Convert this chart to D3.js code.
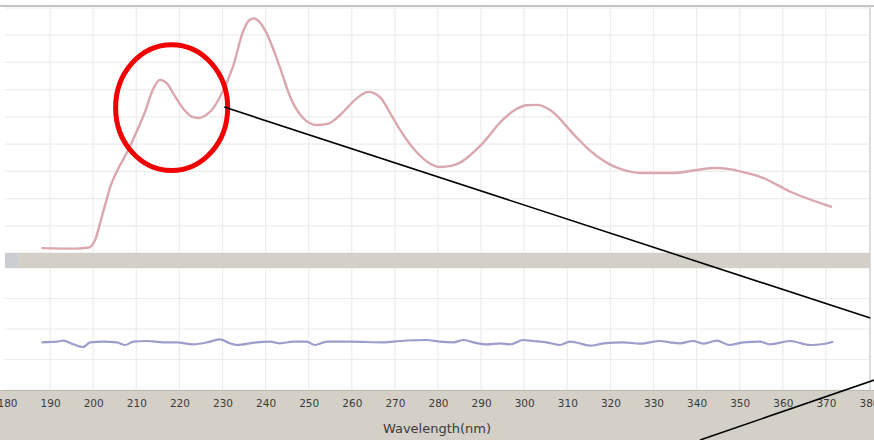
<!DOCTYPE html>
<html>
<head>
<meta charset="utf-8">
<script src="https://cdn.jsdelivr.net/npm/d3@7"></script>
<style>
  body { margin: 0; background: #fff; }
  svg { display: block; }
</style>
</head>
<body>
<div id="chart"></div>
<script>
// absorbance spectrum (upper panel)
var specNm  = [188, 196, 199, 200.5, 201.6, 203, 204, 205.5, 207.8, 209.2, 212, 214, 215.5, 217, 219, 221, 223, 224.5, 226, 227.5, 229.4, 232.4, 234.8, 236.2, 237.3, 238.6, 240.3, 243.3, 245.7, 248.7, 251.9, 254.5, 257.3, 261.2, 263.8, 266.5, 268.9, 271.2, 275, 278, 280.5, 283, 285, 290, 295, 298, 300.5, 303, 306, 311.6, 315, 319.2, 323, 327.1, 334.8, 340, 344, 348, 351, 354.9, 361.9, 371.4];
var specAbs = [0.018, 0.016, 0.02, 0.05, 0.11, 0.19, 0.245, 0.3, 0.368, 0.415, 0.518, 0.605, 0.636, 0.625, 0.575, 0.528, 0.5, 0.496, 0.505, 0.525, 0.573, 0.683, 0.815, 0.855, 0.862, 0.848, 0.805, 0.683, 0.573, 0.496, 0.47, 0.475, 0.507, 0.569, 0.592, 0.573, 0.514, 0.452, 0.371, 0.33, 0.316, 0.32, 0.331, 0.397, 0.489, 0.527, 0.543, 0.544, 0.525, 0.434, 0.38, 0.331, 0.305, 0.294, 0.294, 0.305, 0.312, 0.307, 0.296, 0.279, 0.224, 0.169];

// residual trace (lower panel)
var resNm  = [188, 191.5, 193.1, 195.4, 197.7, 199.3, 202.3, 205.5, 207.4, 209.3, 212.4, 216.3, 219.4, 223.2, 227.1, 229.4, 231.7, 233.3, 237.9, 241, 243.3, 246.4, 249.5, 251.5, 254.2, 259.6, 267.3, 271.2, 277.4, 280.5, 283.6, 285.9, 288.2, 291.3, 294.4, 296.7, 299.8, 302.1, 305.2, 308.3, 310.6, 312.9, 315.3, 318.4, 323, 326.9, 331.5, 333.8, 336.1, 339.2, 341.5, 344.7, 347.7, 350.8, 354.7, 357, 361.7, 366.3, 369.4, 371.7];
var resVal = [1.564, 1.584, 1.616, 1.498, 1.41, 1.564, 1.584, 1.564, 1.475, 1.584, 1.607, 1.564, 1.564, 1.498, 1.584, 1.662, 1.531, 1.475, 1.564, 1.584, 1.531, 1.584, 1.584, 1.475, 1.584, 1.584, 1.564, 1.607, 1.639, 1.584, 1.564, 1.639, 1.564, 1.498, 1.531, 1.498, 1.639, 1.607, 1.564, 1.475, 1.584, 1.53, 1.452, 1.531, 1.564, 1.518, 1.607, 1.564, 1.531, 1.607, 1.518, 1.616, 1.475, 1.564, 1.584, 1.498, 1.607, 1.475, 1.508, 1.584];

var xTicks = d3.range(180, 381, 10);
var upperGrid = d3.range(0, 0.91, 0.1);
var lowerGrid = d3.range(0, 4.1, 1);

// callout: circle round the 215 nm band, lines leading off to the right
var calloutCenter = [218.2, 0.534];
var calloutRadius = [13, 0.231];
var calloutLines = [
  [[230.4, 0.536], [380.3, -0.239]],
  [[381.2, -0.467], [340.8, -0.687]]
];

var width = 874, height = 440;
var svg = d3.select("#chart").append("svg")
    .attr("width", width)
    .attr("height", height);

var x = d3.scaleLinear().domain([180, 380]).range([7, 869]);
var yTop = d3.scaleLinear().domain([0, 0.9]).range([253, 8]);
var yBot = d3.scaleLinear().domain([0, 4]).range([390, 268]);

// plot background + frame
svg.append("rect").attr("x", 5).attr("y", 6).attr("width", 865).attr("height", 384).attr("fill", "#fff");
svg.append("line").attr("x1", 0).attr("x2", 874).attr("y1", 6).attr("y2", 6)
    .attr("stroke", "#c4c4c4").attr("stroke-width", 2);
svg.append("line").attr("x1", 870).attr("x2", 870).attr("y1", 6).attr("y2", 390)
    .attr("stroke", "#d0d0d0").attr("stroke-width", 1.5);

// grids
var grid = svg.append("g").attr("stroke", "#ececec").attr("stroke-width", 1.2);
grid.selectAll(".vt").data(xTicks.slice(1, -1)).enter().append("line")
    .attr("x1", d => x(d)).attr("x2", d => x(d)).attr("y1", 7).attr("y2", 390);
grid.selectAll(".ht").data(upperGrid).enter().append("line")
    .attr("x1", 5).attr("x2", 869).attr("y1", d => yTop(d)).attr("y2", d => yTop(d));
grid.selectAll(".hb").data(lowerGrid).enter().append("line")
    .attr("x1", 5).attr("x2", 869).attr("y1", d => yBot(d)).attr("y2", d => yBot(d));

// separator band between panels
svg.append("rect").attr("x", 5).attr("y", 253).attr("width", 865).attr("height", 15).attr("fill", "#d4d0c8");
svg.append("rect").attr("x", 5).attr("y", 253).attr("width", 13).attr("height", 15).attr("fill", "#cacdd3");

// bottom axis area
svg.append("rect").attr("x", 0).attr("y", 390).attr("width", width).attr("height", 50).attr("fill", "#d4d0c8");
svg.append("line").attr("x1", 0).attr("x2", width).attr("y1", 390.5).attr("y2", 390.5).attr("stroke", "#bdb9b1");

var axis = svg.append("g")
    .attr("transform", "translate(0,390)")
    .call(d3.axisBottom(x).tickValues(xTicks).tickSize(0).tickPadding(10).tickFormat(d3.format("d")));
axis.select(".domain").remove();
axis.selectAll("text")
    .attr("font-family", "DejaVu Sans, Verdana, sans-serif")
    .attr("font-size", 10.5)
    .attr("fill", "#3a3a3a");

svg.append("text")
    .attr("x", 437).attr("y", 433)
    .attr("text-anchor", "middle")
    .attr("font-family", "DejaVu Sans, Verdana, sans-serif")
    .attr("font-size", 13)
    .attr("fill", "#3a3a3a")
    .text("Wavelength(nm)");

// spectrum
var specLine = d3.line()
    .x((d, i) => x(specNm[i]))
    .y(d => yTop(d))
    .curve(d3.curveMonotoneX);
svg.append("path")
    .datum(specAbs)
    .attr("fill", "none")
    .attr("stroke", "#dba7ae")
    .attr("stroke-width", 2.4)
    .attr("d", specLine);

// residuals
var resLine = d3.line()
    .x((d, i) => x(resNm[i]))
    .y(d => yBot(d))
    .curve(d3.curveMonotoneX);
svg.append("path")
    .datum(resVal)
    .attr("fill", "none")
    .attr("stroke", "#9d9dcb")
    .attr("stroke-width", 2.2)
    .attr("d", resLine);

// callout
svg.append("ellipse")
    .attr("cx", x(calloutCenter[0]))
    .attr("cy", yTop(calloutCenter[1]))
    .attr("rx", x(calloutCenter[0] + calloutRadius[0]) - x(calloutCenter[0]))
    .attr("ry", yTop(calloutCenter[1] - calloutRadius[1]) - yTop(calloutCenter[1]))
    .attr("fill", "none")
    .attr("stroke", "#f00000")
    .attr("stroke-width", 5);

svg.selectAll(".callout").data(calloutLines).enter().append("line")
    .attr("x1", d => x(d[0][0])).attr("y1", d => yTop(d[0][1]))
    .attr("x2", d => x(d[1][0])).attr("y2", d => yTop(d[1][1]))
    .attr("stroke", "#000")
    .attr("stroke-width", 1.6);
</script>
</body>
</html>
